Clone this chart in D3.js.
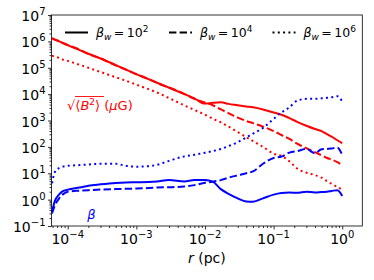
<!DOCTYPE html>
<html>
<head>
<meta charset="utf-8">
<script src="https://cdn.jsdelivr.net/npm/d3@7"></script>
<style>
  html, body { margin: 0; padding: 0; background: #fff; }
  svg { display: block; }
  text { font-family: "DejaVu Sans", sans-serif; }
</style>
</head>
<body>
<div id="chart"></div>
<script>
// ---------------- data ----------------
const r = [5.9e-5, 6.5e-5, 7.5e-5, 8.5e-5, 1e-4, 1.5e-4, 2e-4, 3e-4, 5e-4, 7e-4,
  1e-3, 1.5e-3, 2e-3, 3e-3, 5e-3, 7e-3, 1e-2, 1.3e-2, 1.7e-2, 2.2e-2,
  3e-2, 4e-2, 5e-2, 7e-2, 0.1, 0.13, 0.17, 0.22, 0.3, 0.4,
  0.5, 0.6, 0.7, 0.85, 1.0];

// sqrt(<B^2>) in microgauss
const B_bw1e2 = [1.32e6, 1.17e6, 1.00e6, 8.71e5, 7.24e5, 4.68e5, 3.39e5, 2.24e5, 1.26e5, 8.51e4,
  5.75e4, 3.72e4, 2.69e4, 1.74e4, 1.00e4, 6.92e3, 4.37e3, 4.68e3, 4.90e3, 4.27e3,
  3.80e3, 3.39e3, 3.16e3, 2.63e3, 2.00e3, 1.66e3, 1.23e3, 891, 631, 479,
  398, 302, 245, 178, 138];
const B_bw1e4 = [1.29e6, 1.15e6, 1.02e6, 8.51e5, 7.24e5, 4.79e5, 3.31e5, 2.29e5, 1.23e5, 8.71e4,
  5.62e4, 3.80e4, 2.63e4, 1.78e4, 1.02e4, 6.61e3, 4.79e3, 3.80e3, 2.63e3, 1.91e3,
  1.29e3, 955, 794, 589, 398, 282, 200, 132, 89.1, 63.1,
  47.9, 38.0, 33.1, 26.3, 20.4];
const B_bw1e6 = [2.88e5, 2.63e5, 2.34e5, 2.04e5, 1.82e5, 1.29e5, 1.00e5, 6.92e4, 4.37e4, 3.24e4,
  2.29e4, 1.55e4, 1.15e4, 7.08e3, 3.72e3, 2.51e3, 1.66e3, 1.17e3, 851, 589,
  363, 234, 166, 100, 55.0, 45.7, 28.2, 15.1, 10.5, 8.51,
  6.76, 5.01, 3.98, 3.02, 2.34];

// plasma beta
const beta_bw1e2 = [0.347, 0.891, 1.58, 2.09, 2.40, 2.88, 3.39, 3.80, 4.27, 4.47,
  4.57, 4.68, 4.90, 5.50, 4.90, 5.50, 5.50, 4.79, 2.51, 1.66,
  1.12, 0.851, 0.832, 1.12, 1.55, 1.78, 1.86, 1.82, 2.00, 1.86,
  1.95, 2.00, 2.14, 2.29, 1.38];
const beta_bw1e4 = [0.302, 0.603, 1.12, 1.58, 2.00, 2.19, 2.29, 2.40, 2.51, 2.57,
  2.63, 2.75, 2.88, 2.95, 3.16, 3.55, 4.37, 4.79, 5.50, 6.76,
  8.32, 10.0, 11.7, 22.9, 38.0, 42.7, 60.3, 69.2, 83.2, 57.5,
  81.3, 83.2, 87.1, 93.3, 49.0];
const beta_bw1e6 = [4.17, 11.2, 15.8, 17.8, 19.1, 20.4, 21.4, 22.9, 22.9, 19.1,
  17.8, 18.6, 20.9, 29.5, 43.7, 50.1, 60.3, 69.2, 83.2, 107,
  151, 229, 316, 525, 1150, 2000, 3160, 5620, 6610, 6610,
  6920, 7240, 7590, 8320, 5250];

const legendLabels = ["2", "4", "6"];       // exponents of beta_w
const yTickExps = [-1, 0, 1, 2, 3, 4, 5, 6, 7];
const xTickExps = [-4, -3, -2, -1, 0];

// ---------------- layout ----------------
const W = 374, H = 280;
const L = 51.5, R = 362.3, T = 15, B = 226;

const svg = d3.select("#chart").append("svg")
  .attr("width", W).attr("height", H);

const x = d3.scaleLog().domain([5.8e-5, 1.96]).range([L, R]);
const y = d3.scaleLog().domain([0.1, 1e7]).range([B, T]);

svg.append("defs").append("clipPath").attr("id", "clip")
  .append("rect").attr("x", L).attr("y", T).attr("width", R - L).attr("height", B - T);

const series = [
  { v: B_bw1e2, color: "#ff0000", dash: null },
  { v: B_bw1e4, color: "#ff0000", dash: "7.4,3.2" },
  { v: B_bw1e6, color: "#ff0000", dash: "2,3.3" },
  { v: beta_bw1e2, color: "#0000ff", dash: null },
  { v: beta_bw1e4, color: "#0000ff", dash: "7.4,3.2" },
  { v: beta_bw1e6, color: "#0000ff", dash: "2,3.3" }
];

const line = d3.line()
  .x((d, i) => x(r[i]))
  .y(d => y(d))
  .curve(d3.curveMonotoneX);

const g = svg.append("g").attr("clip-path", "url(#clip)");
series.forEach(s => {
  g.append("path")
    .attr("d", line(s.v))
    .attr("fill", "none")
    .attr("stroke", s.color)
    .attr("stroke-width", 2)
    .attr("stroke-dasharray", s.dash)
    .attr("stroke-linejoin", "round");
});

// ---------------- axes ----------------
const minorVals = (scale) => {
  const [a, b] = scale.domain();
  const out = [];
  for (let e = Math.floor(Math.log10(a)); e <= Math.ceil(Math.log10(b)); e++) {
    for (let m = 2; m <= 9; m++) {
      const v = m * Math.pow(10, e);
      if (v >= a && v <= b) out.push(v);
    }
  }
  return out;
};

const yMajor = yTickExps.map(e => Math.pow(10, e));
const xMajor = xTickExps.map(e => Math.pow(10, e));

function styleAxis(sel) {
  sel.select(".domain").remove();
  sel.selectAll(".tick line").attr("stroke", "#000").attr("stroke-width", 0.8);
  sel.selectAll(".tick text").remove();
}

svg.append("g").attr("transform", `translate(${L},0)`)
  .call(d3.axisLeft(y).tickValues(minorVals(y)).tickSize(2).tickFormat(""))
  .call(styleAxis);
svg.append("g").attr("transform", `translate(${L},0)`)
  .call(d3.axisLeft(y).tickValues(yMajor).tickSize(3.5).tickFormat(""))
  .call(styleAxis);
svg.append("g").attr("transform", `translate(0,${B})`)
  .call(d3.axisBottom(x).tickValues(minorVals(x)).tickSize(2).tickFormat(""))
  .call(styleAxis);
svg.append("g").attr("transform", `translate(0,${B})`)
  .call(d3.axisBottom(x).tickValues(xMajor).tickSize(3.5).tickFormat(""))
  .call(styleAxis);

// frame
svg.append("rect")
  .attr("x", L).attr("y", T).attr("width", R - L).attr("height", B - T)
  .attr("fill", "none").attr("stroke", "#000").attr("stroke-width", 0.8);

const fmtExp = e => (e < 0 ? "\u2212" + Math.abs(e) : String(e));

// y tick labels
yTickExps.forEach(e => {
  const t = svg.append("text")
    .attr("x", L - 6).attr("y", y(Math.pow(10, e)) + 6)
    .attr("text-anchor", "end").attr("font-size", 14).attr("fill", "#000");
  t.append("tspan").text("10");
  t.append("tspan").attr("dy", -6).attr("font-size", 10).text(fmtExp(e));
});

// x tick labels
xTickExps.forEach(e => {
  const t = svg.append("text")
    .attr("x", x(Math.pow(10, e))).attr("y", B + 18)
    .attr("text-anchor", "middle").attr("font-size", 14).attr("fill", "#000");
  t.append("tspan").text("10");
  t.append("tspan").attr("dy", -6).attr("font-size", 10).text(fmtExp(e));
});

// x axis label
const xl = svg.append("text")
  .attr("x", (L + R) / 2).attr("y", 263)
  .attr("text-anchor", "middle").attr("font-size", 14).attr("fill", "#000");
xl.append("tspan").attr("font-style", "italic").text("r");
xl.append("tspan").text(" (pc)");

// ---------------- legend ----------------
const legendX = [65, 169, 272.5];
const legendDash = [null, "7.4,3.2", "2,3.3"];
legendLabels.forEach((lab, i) => {
  const lx = legendX[i];
  svg.append("line")
    .attr("x1", lx).attr("x2", lx + 23).attr("y1", 32.5).attr("y2", 32.5)
    .attr("stroke", "#000").attr("stroke-width", 2)
    .attr("stroke-dasharray", legendDash[i]);
  const t = svg.append("text")
    .attr("x", lx + 31).attr("y", 37)
    .attr("font-size", 12.5).attr("fill", "#000");
  t.append("tspan").attr("font-style", "italic").text("\u03B2");
  t.append("tspan").attr("font-style", "italic").attr("font-size", 9).attr("dy", 2.5).text("w");
  t.append("tspan").attr("dy", -2.5).text("\u2009=\u200910");
  t.append("tspan").attr("font-size", 9).attr("dy", -5.5).text(lab);
});

// ---------------- annotations ----------------
const ann = svg.append("text")
  .attr("x", 67).attr("y", 110)
  .attr("font-size", 13).attr("fill", "#ff0000");
ann.append("tspan").text("\u221A");
ann.append("tspan").text("\u27E8");
ann.append("tspan").attr("font-style", "italic").text("B");
ann.append("tspan").attr("font-size", 9).attr("dy", -5).text("2");
ann.append("tspan").attr("dy", 5).text("\u27E9");
ann.append("tspan").text(" (");
ann.append("tspan").attr("font-style", "italic").text("\u03BC");
ann.append("tspan").text("G)");
svg.append("line")
  .attr("x1", 75).attr("x2", 104).attr("y1", 96.5).attr("y2", 96.5)
  .attr("stroke", "#ff0000").attr("stroke-width", 0.9);

svg.append("text")
  .attr("x", 91.5).attr("y", 219)
  .attr("text-anchor", "middle")
  .attr("font-size", 13).attr("font-style", "italic").attr("fill", "#0000ff")
  .text("\u03B2");
</script>
</body>
</html>
